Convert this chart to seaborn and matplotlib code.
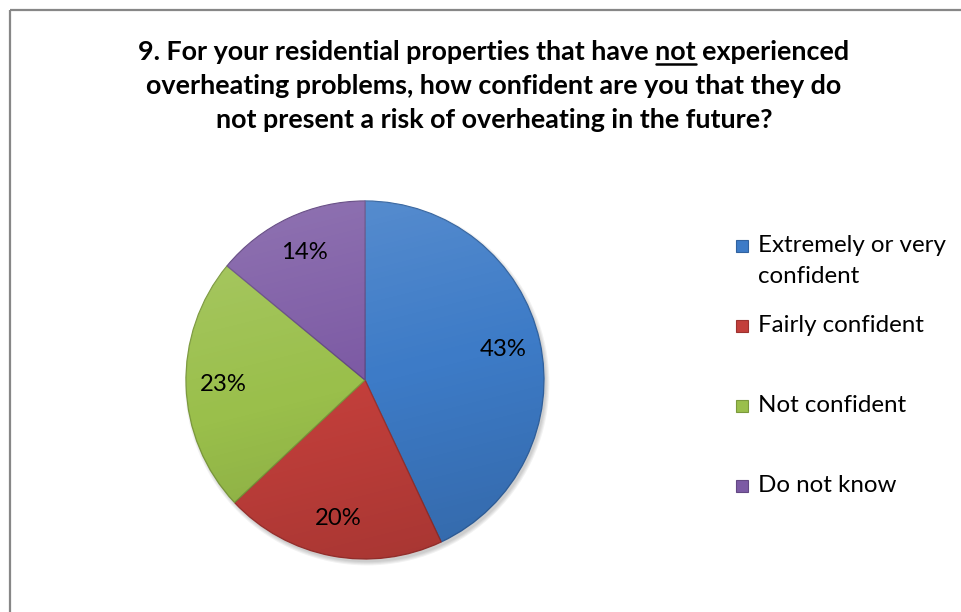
import matplotlib
matplotlib.use("Agg")
import matplotlib.pyplot as plt
import seaborn as sns
import numpy as np
from matplotlib.patches import Rectangle, Circle
from matplotlib.lines import Line2D

# ---- data ----
categories = ["Extremely or very\nconfident", "Fairly confident", "Not confident", "Do not know"]
shares = [43, 20, 23, 14]
slice_colors = ["#3D7BC7", "#C33F3B", "#9ABF4B", "#7C5AA4"]

title_prefix = "9. For your residential properties that have "
title_emph = "not"
title_suffix = " experienced"
title_lines = [
    "overheating problems, how confident are you that they do",
    "not present a risk of overheating in the future?",
]

sns.set_theme(style="white")
plt.rcParams["font.family"] = ["Lato", "DejaVu Sans"]

W, H = 962, 612
fig = plt.figure(figsize=(W / 100, H / 100), dpi=100)
fig.patch.set_facecolor("white")


def fx(px):
    return px / W


def fy(py):
    return 1 - py / H


# chart-area border (left and top edges)
frame_kw = dict(color="#878787", lw=1.6, solid_capstyle="butt")
fig.add_artist(Line2D([fx(10), fx(10)], [0, fy(10)], **frame_kw))
fig.add_artist(Line2D([fx(10), 1], [fy(10), fy(10)], **frame_kw))

# ---- pie ----
cx, cy, r = 365, 380, 179
ax = fig.add_axes([fx(cx - r), fy(cy + r), 2 * r / W, 2 * r / H])
palette = sns.color_palette(slice_colors)
edge_cols = [tuple(np.array(c) * 0.8) for c in palette]

# soft drop shadow
for k in range(4):
    ax.add_patch(Circle((0.012, -0.018), 1.0 + 0.006 * k, color="black",
                        alpha=0.05, lw=0, zorder=0, clip_on=False))

wedges, _, autotexts = ax.pie(
    shares, colors=palette, startangle=90, counterclock=False, radius=1,
    autopct=lambda p: f"{p:.0f}%", pctdistance=0.79,
    wedgeprops=dict(linewidth=0.9),
    textprops=dict(fontsize=17.2, color="black"),
)
for w, ec in zip(wedges, edge_cols):
    w.set_edgecolor(ec)
    w.set_zorder(2)
for t in autotexts:
    t.set_zorder(5)

# light-to-dark shading across the pie
yy, xx = np.mgrid[1:-1:300j, -1:1:300j]
shade = np.zeros((300, 300, 4))
g = (yy * 0.8 - xx * 0.2)
shade[..., :3] = np.where(g[..., None] > 0, 1.0, 0.0)
shade[..., 3] = np.clip(np.abs(g) * 0.16, 0, 0.17)
im = ax.imshow(shade, extent=[-1, 1, -1, 1], zorder=3, interpolation="bilinear")
im.set_clip_path(Circle((0, 0), 1.0, transform=ax.transData))

ax.set_xlim(-1, 1)
ax.set_ylim(-1, 1)
ax.set_aspect("equal")
ax.axis("off")

# ---- legend ----
leg_x_box, leg_x_text = 736, 758
leg_base0, leg_step, leg_line = 252, 80, 31
for i, (lab, col, ec) in enumerate(zip(categories, palette, edge_cols)):
    base = leg_base0 + i * leg_step
    fig.add_artist(Rectangle((fx(leg_x_box), fy(base)), 12 / W, 12 / H,
                             facecolor=col, edgecolor=ec, lw=0.8,
                             transform=fig.transFigure))
    for k, part in enumerate(lab.split("\n")):
        fig.text(fx(leg_x_text), fy(base + k * leg_line), part, fontsize=17.4,
                 va="baseline", ha="left", color="black")

# ---- title ----
title_cx = 494
title_fs = 19.4
first = title_prefix + title_emph + title_suffix
tkw = dict(fontsize=title_fs, fontweight="bold", ha="center", va="baseline", color="black")
t1 = fig.text(fx(title_cx), fy(60), first, **tkw)
for j, line in enumerate(title_lines):
    fig.text(fx(title_cx), fy(60 + 34 * (j + 1)), line, **tkw)

# underline the emphasised word
fig.canvas.draw()
rend = fig.canvas.get_renderer()


def text_width(s):
    tmp = fig.text(0, 0, s, fontsize=title_fs, fontweight="bold")
    wdt = tmp.get_window_extent(rend).width
    tmp.remove()
    return wdt


bb = t1.get_window_extent(rend)
x_end = bb.x0 + text_width(title_prefix + title_emph)
x_start = x_end - text_width(title_emph)
fig.add_artist(Line2D([x_start / W, x_end / W], [fy(63.5), fy(63.5)],
                      color="black", lw=1.8))

fig.savefig("out.png", dpi=100, facecolor="white")
